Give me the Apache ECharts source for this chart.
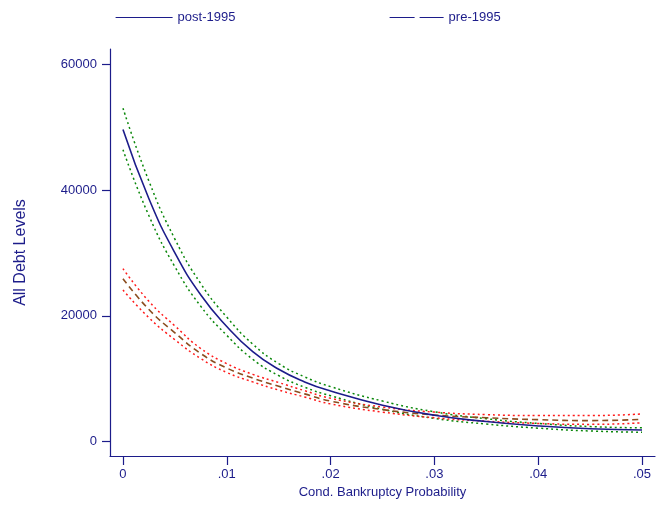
<!DOCTYPE html>
<html>
<head>
<meta charset="utf-8">
<script src="https://cdn.jsdelivr.net/npm/echarts@6/dist/echarts.min.js"></script>
<style>
  html, body { margin: 0; padding: 0; background: #fff; }
  #chart { width: 670px; height: 508px; }
</style>
</head>
<body>
<div id="chart"></div>
<script>
// bankruptcy probability grid (x values)
const probs = [0, 0.0025, 0.005, 0.0075, 0.01, 0.0125, 0.015, 0.0175, 0.02, 0.025, 0.03, 0.035, 0.04, 0.045, 0.05];

// post-1995 fit and its band
const post1995 = [49600, 38600, 30000, 23300, 18300, 14300, 11500, 9500, 8050, 5800, 4200, 3200, 2500, 2050, 1860];
const postUpper = [53000, 41400, 32200, 25100, 19800, 15500, 12400, 10300, 8750, 6450, 4750, 3650, 2900, 2400, 2200];
const postLower = [46400, 35900, 27800, 21500, 16900, 13100, 10500, 8650, 7300, 5150, 3700, 2800, 2150, 1700, 1500];

// pre-1995 fit and its band
const pre1995 = [25900, 21000, 17300, 14000, 11700, 10100, 8800, 7600, 6450, 5100, 4250, 3800, 3500, 3350, 3550];
const preUpper = [27500, 22300, 18400, 14800, 12400, 10700, 9400, 8100, 6900, 5500, 4700, 4300, 4150, 4150, 4400];
const preLower = [24100, 19700, 16200, 13200, 11000, 9500, 8200, 7100, 6000, 4700, 3800, 3250, 2900, 2750, 3000];

const xTicks = [0, 0.01, 0.02, 0.03, 0.04, 0.05];
const yTicks = [0, 20000, 40000, 60000];

const navy = '#1c1c8a';
const pairs = ys => probs.map((x, i) => [x, ys[i]]);
const font = 'Liberation Sans, Arial, sans-serif';

const chart = echarts.init(document.getElementById('chart'));

const lineSeries = (name, ys, color, type, width) => ({
  name: name,
  type: 'line',
  data: pairs(ys),
  smooth: true,
  symbol: 'none',
  silent: true,
  lineStyle: { color: color, width: width, type: type }
});

chart.setOption({
  animation: false,
  backgroundColor: '#fff',
  textStyle: { fontFamily: font },
  grid: { left: 110, right: 15, top: 49, bottom: 52 },
  legend: [
    {
      left: 110, top: 6,
      itemWidth: 57, itemHeight: 10,
      itemStyle: { opacity: 0 },
      textStyle: { color: navy, fontSize: 13, fontFamily: font },
      data: [{ name: 'post-1995', lineStyle: { color: navy, width: 1.2, type: 'solid' } }]
    },
    {
      left: 384, top: 6,
      itemWidth: 54, itemHeight: 10,
      itemStyle: { opacity: 0 },
      textStyle: { color: navy, fontSize: 13, fontFamily: font },
      data: [{ name: 'pre-1995', lineStyle: { color: navy, width: 1.2, type: [25, 5] } }]
    }
  ],
  xAxis: {
    type: 'value',
    min: -0.00125,
    max: 0.05125,
    name: 'Cond. Bankruptcy Probability',
    nameLocation: 'middle',
    nameGap: 23,
    nameTextStyle: { color: navy, fontSize: 13, fontFamily: font },
    axisLine: { show: true, onZero: false, lineStyle: { color: navy, width: 1.2 } },
    axisTick: { show: true, length: 9, customValues: xTicks, lineStyle: { color: navy, width: 1.2 } },
    axisLabel: {
      color: navy, fontSize: 13, margin: 12,
      customValues: xTicks,
      formatter: v => v === 0 ? '0' : ('.' + Math.round(v * 100).toString().padStart(2, '0'))
    },
    splitLine: { show: false }
  },
  yAxis: {
    type: 'value',
    min: -2275,
    max: 62400,
    name: 'All Debt Levels',
    nameLocation: 'middle',
    nameGap: 81,
    nameTextStyle: { color: navy, fontSize: 16, fontFamily: font },
    axisLine: { show: true, onZero: false, lineStyle: { color: navy, width: 1.2 } },
    axisTick: { show: true, length: 8, customValues: yTicks, lineStyle: { color: navy, width: 1.2 } },
    axisLabel: { color: navy, fontSize: 13, margin: 13, customValues: yTicks, formatter: v => String(v) },
    splitLine: { show: false }
  },
  series: [
    lineSeries('post upper', postUpper, '#0a870a', [2, 3], 1.5),
    lineSeries('post lower', postLower, '#0a870a', [2, 3], 1.5),
    lineSeries('pre upper', preUpper, '#ff1a1a', [2, 3], 1.5),
    lineSeries('pre lower', preLower, '#ff1a1a', [2, 3], 1.5),
    lineSeries('pre-1995', pre1995, '#8b4d1f', [6, 4], 1.6),
    lineSeries('post-1995', post1995, navy, 'solid', 1.6)
  ]
});
</script>
</body>
</html>
